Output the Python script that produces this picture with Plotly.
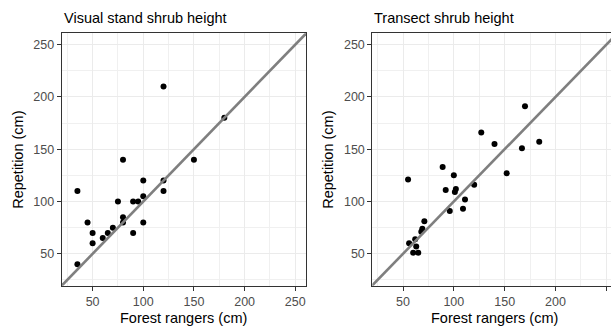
import plotly.graph_objects as go

# ---- data ----
visual_forest = [120, 180, 80, 150, 35, 100, 120, 120, 100, 75, 90, 95, 80, 80, 45, 100, 50, 90, 50, 60, 65, 70, 35]
visual_repeat = [210, 180, 140, 140, 110, 120, 120, 110, 105, 100, 100, 100, 85, 80, 80, 80, 70, 70, 60, 65, 70, 75, 40]

transect_forest = [170, 184, 127, 140, 167, 152, 55, 89, 100, 92, 102, 101, 120, 111, 96, 109, 71, 69, 68, 62, 56, 63, 60, 65]
transect_repeat = [191, 157, 166, 155, 151, 127, 121, 133, 125, 111, 112, 109, 116, 102, 91, 93, 81, 74, 71, 64, 60, 57, 51, 51]

identity_line = [0, 300]
tick_values = [50, 100, 150, 200, 250]
panel_titles = ["Visual stand shrub height", "Transect shrub height"]
x_title = "Forest rangers (cm)"
y_title = "Repetition (cm)"

W, H = 611, 326
FONT = "Liberation Sans, Arial, sans-serif"

fig = go.Figure()

for i, (xs, ys) in enumerate([(visual_forest, visual_repeat), (transect_forest, transect_repeat)]):
    xa = "x" if i == 0 else "x2"
    ya = "y" if i == 0 else "y2"
    fig.add_trace(go.Scatter(x=xs, y=ys, mode="markers", xaxis=xa, yaxis=ya,
                             marker=dict(color="black", size=6, line=dict(width=0)),
                             showlegend=False, hoverinfo="x+y"))
    fig.add_trace(go.Scatter(x=identity_line, y=identity_line, mode="lines", xaxis=xa, yaxis=ya,
                             line=dict(color="#7F7F7F", width=2.6),
                             showlegend=False, hoverinfo="skip"))

def px_x(p):
    return p / W

def px_y(p):
    return 1 - p / H

top, bottom = 33.3, 285.7
ydom = [px_y(bottom), px_y(top)]

axis_common = dict(
    tickmode="array", tickvals=tick_values,
    ticks="outside", ticklen=4, tickwidth=1, tickcolor="#333333",
    tickfont=dict(family=FONT, size=12.5, color="#4D4D4D"),
    showgrid=True, gridcolor="#EBEBEB", gridwidth=1,
    minor=dict(tickmode="array", tickvals=[25, 75, 125, 175, 225], showgrid=True,
               gridcolor="#F0F0F0", gridwidth=0.7, ticks=""),
    zeroline=False, showline=True, linecolor="#333333", linewidth=1,
    fixedrange=True,
)

fig.update_layout(
    width=W, height=H, autosize=False,
    margin=dict(l=0, r=0, t=0, b=0),
    paper_bgcolor="white", plot_bgcolor="white",
    font=dict(family=FONT),
    xaxis=dict(domain=[px_x(61.7), px_x(306)], range=[19.5, 260.6], anchor="y", mirror=True, **axis_common),
    yaxis=dict(domain=ydom, range=[19.5, 260.8], anchor="x", mirror=True, **axis_common),
    xaxis2=dict(domain=[px_x(372.3), 1.0], range=[19.8, 254.6], anchor="y2", mirror=True, **axis_common),
    yaxis2=dict(domain=ydom, range=[19.5, 260.8], anchor="x2", mirror=False, **axis_common),
)

ann = []
ann.append(dict(text=panel_titles[0], x=px_x(61.7), y=px_y(17.5), xanchor="left", yanchor="middle"))
ann.append(dict(text=panel_titles[1], x=px_x(372.3), y=px_y(17.5), xanchor="left", yanchor="middle"))
ann.append(dict(text=x_title, x=px_x(183.8), y=px_y(317.5), xanchor="center", yanchor="middle"))
ann.append(dict(text=x_title, x=px_x(494.3), y=px_y(317.5), xanchor="center", yanchor="middle"))
ann.append(dict(text=y_title, x=px_x(18.3), y=px_y(159.5), xanchor="center", yanchor="middle", textangle=-90))
ann.append(dict(text=y_title, x=px_x(328.3), y=px_y(159.5), xanchor="center", yanchor="middle", textangle=-90))
for a in ann:
    a.update(xref="paper", yref="paper", showarrow=False,
             font=dict(family=FONT, size=14.5, color="black"))
fig.update_layout(annotations=ann)

fig.write_html("out.html", config={"displayModeBar": False})
